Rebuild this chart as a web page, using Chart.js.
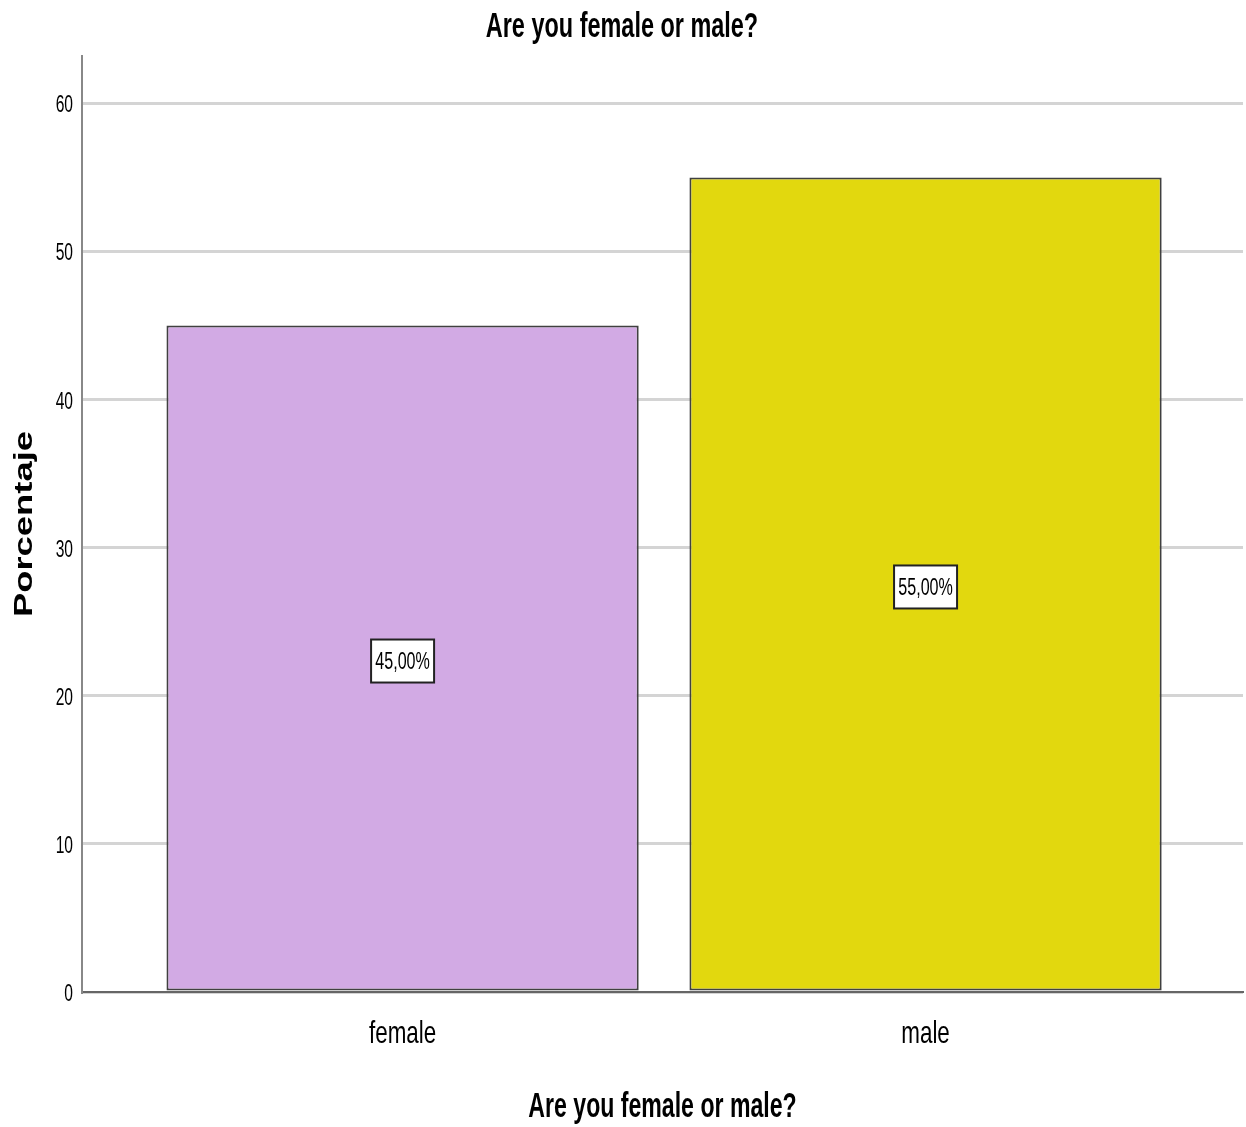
<!DOCTYPE html>
<html>
<head>
<meta charset="utf-8">
<script src="https://cdn.jsdelivr.net/npm/chart.js@4.4.1/dist/chart.umd.min.js"></script>
<style>
  html, body { margin: 0; padding: 0; background: #fff; }
  #wrap { width: 1246px; height: 1127px; }
</style>
</head>
<body>
<div id="wrap"><canvas id="barChart"></canvas></div>
<script>
var categories = ["female", "male"];
var percentages = [45, 55];
var barColors = ["#D2AAE4", "#E2D80E"];
var yTicks = [0, 10, 20, 30, 40, 50, 60];

var chartTitle = "Are you female or male?";
var xTitle = "Are you female or male?";
var yTitle = "Porcentaje";

var sans = "'Liberation Sans', Arial, sans-serif";

// the original text is a narrow face, squeezed horizontally
function drawText(ctx, txt, x, y, size, hs, weight, align) {
    ctx.save();
    ctx.translate(x, y);
    ctx.scale(hs, 1);
    ctx.font = weight + " " + size + "px " + sans;
    ctx.textAlign = align;
    ctx.textBaseline = "alphabetic";
    ctx.fillStyle = "#000";
    ctx.fillText(txt, 0, 0);
    ctx.restore();
}

// white boxed percentage in the middle of each bar
var barLabels = {
    id: "barLabels",
    afterDatasetsDraw: function (chart) {
        var ctx = chart.ctx;
        var meta = chart.getDatasetMeta(0);
        meta.data.forEach(function (bar, i) {
            var txt = percentages[i].toFixed(2).replace(".", ",") + "%";
            var cy = (bar.y + bar.base) / 2 + 3;
            var w = 63, h = 43;
            ctx.save();
            ctx.fillStyle = "#fff";
            ctx.fillRect(bar.x - w / 2, cy - h / 2, w, h);
            ctx.strokeStyle = "#222";
            ctx.lineWidth = 2;
            ctx.strokeRect(bar.x - w / 2, cy - h / 2, w, h);
            ctx.restore();
            drawText(ctx, txt, bar.x, cy + 8, 23, 0.7, "normal", "center");
        });
    }
};

// titles and tick labels
var textLayer = {
    id: "textLayer",
    afterDraw: function (chart) {
        var ctx = chart.ctx;
        var area = chart.chartArea;
        var xs = chart.scales.x, ys = chart.scales.y;

        drawText(ctx, chartTitle, chart.width / 2 - 1, 37, 35, 0.67, "bold", "center");
        drawText(ctx, xTitle, (area.left + area.right) / 2, 1117, 35, 0.66, "bold", "center");

        yTicks.forEach(function (t) {
            drawText(ctx, String(t), area.left - 9, ys.getPixelForValue(t) + 9, 24, 0.65, "normal", "right");
        });
        categories.forEach(function (c, i) {
            drawText(ctx, c, xs.getPixelForValue(i + 1), 1043, 32, 0.7, "normal", "center");
        });

        ctx.save();
        ctx.translate(32, (area.top + area.bottom) / 2);
        ctx.rotate(-Math.PI / 2);
        ctx.scale(1.4, 1);
        ctx.font = "bold 26px " + sans;
        ctx.textAlign = "center";
        ctx.textBaseline = "alphabetic";
        ctx.fillStyle = "#000";
        ctx.fillText(yTitle, 0, 0);
        ctx.restore();
    }
};

var barChart = new Chart(document.getElementById("barChart"), {
    type: "bar",
    data: {
        datasets: [{
            data: percentages.map(function (v, i) { return {x: i + 1, y: v}; }),
            backgroundColor: barColors,
            borderColor: "#404040",
            borderWidth: 2,
            borderSkipped: false,
            barPercentage: 0.903,
            categoryPercentage: 1.0
        }]
    },
    options: {
        responsive: true,
        maintainAspectRatio: false,
        animation: false,
        layout: {padding: {left: 0, right: 3, top: 56, bottom: 0}},
        plugins: {
            legend: {display: false},
            tooltip: {enabled: false},
            title: {display: false}
        },
        scales: {
            x: {
                type: "linear",
                offset: false,
                min: 0.387,
                max: 2.607,
                afterBuildTicks: function (scale) {
                    scale.ticks = categories.map(function (c, i) { return {value: i + 1}; });
                },
                afterFit: function (scale) { scale.height = 135; },
                ticks: {display: false},
                grid: {display: false, drawTicks: false},
                border: {display: true, color: "#666", width: 2}
            },
            y: {
                min: 0,
                max: 63.2,
                afterBuildTicks: function (scale) {
                    scale.ticks = yTicks.map(function (t) { return {value: t}; });
                },
                afterFit: function (scale) { scale.width = 82; },
                ticks: {display: false},
                grid: {color: "#d4d4d4", lineWidth: 3, drawTicks: false},
                border: {display: true, color: "#888", width: 2}
            }
        }
    },
    plugins: [barLabels, textLayer]
});
</script>
</body>
</html>
